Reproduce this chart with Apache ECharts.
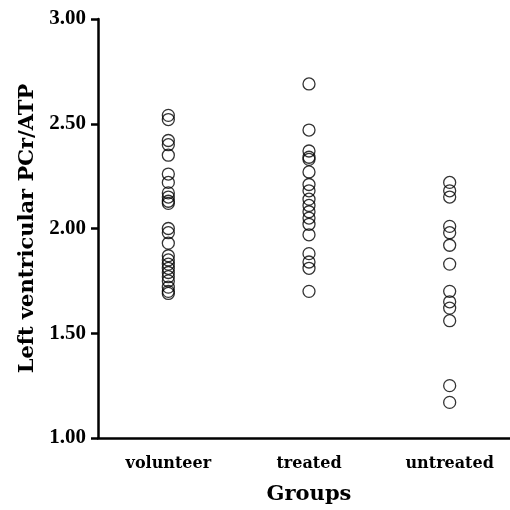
<!DOCTYPE html>
<html>
<head>
<meta charset="utf-8">
<script src="https://cdn.jsdelivr.net/npm/echarts@6/dist/echarts.min.js"></script>
<style>
  html, body { margin: 0; padding: 0; background: #fff; overflow: hidden; }
  /* the x axis runs past the right edge of the picture, so the chart is a bit wider than the window */
  #chart { width: 520px; height: 510px; }
</style>
</head>
<body>
<div id="chart"></div>
<script>
  // groups on the x axis
  var groups = ['volunteer', 'treated', 'untreated']

  // PCr/ATP values
  var volunteer = [2.54, 2.52, 2.42, 2.40, 2.35, 2.26, 2.22, 2.17, 2.15, 2.13, 2.12,
    2.00, 1.98, 1.93, 1.87, 1.85, 1.83, 1.81, 1.79, 1.77, 1.75, 1.72, 1.70, 1.69]
  var treated = [2.69, 2.47, 2.37, 2.34, 2.33, 2.27, 2.21, 2.18, 2.14, 2.11, 2.08,
    2.05, 2.02, 1.97, 1.88, 1.84, 1.81, 1.70]
  var untreated = [2.22, 2.18, 2.15, 2.01, 1.98, 1.92, 1.83, 1.70, 1.65, 1.62, 1.56,
    1.25, 1.17]

  var yTicks = [1.0, 1.5, 2.0, 2.5, 3.0]

  // wide bold serif for words, times-like for the numbers
  var font = '"DejaVu Serif", "Liberation Serif", serif'
  var numFont = '"Liberation Serif", "Times New Roman", serif'

  function toPoints(name, values) {
    return values.map(function (v) { return [name, v] })
  }

  var chart = echarts.init(document.getElementById('chart'))
  chart.setOption({
    animation: false,
    grid: { left: 98, top: 19, right: 0, bottom: 70 },
    xAxis: {
      type: 'category',
      data: groups,
      name: 'Groups',
      nameLocation: 'middle',
      nameGap: 46,
      nameTextStyle: { fontFamily: font, fontWeight: 'bold', fontSize: 21, color: '#000' },
      axisLine: { lineStyle: { color: '#000', width: 2.5 } },
      axisTick: { alignWithLabel: true, length: 6, lineStyle: { color: '#000', width: 2.5 } },
      axisLabel: { fontFamily: font, fontWeight: 'bold', fontSize: 16, color: '#000', margin: 18 },
      splitLine: { show: false }
    },
    yAxis: {
      type: 'value',
      min: yTicks[0],
      max: yTicks[yTicks.length - 1],
      interval: 0.5,
      name: 'Left ventricular PCr/ATP',
      nameLocation: 'middle',
      nameGap: 60,
      nameTextStyle: { fontFamily: font, fontWeight: 'bold', fontSize: 21, color: '#000' },
      axisLine: { show: true, lineStyle: { color: '#000', width: 2.5 } },
      axisTick: { show: true, length: 7, lineStyle: { color: '#000', width: 2.5 } },
      axisLabel: {
        fontFamily: numFont, fontWeight: 'bold', fontSize: 21, color: '#000', margin: 12,
        formatter: function (v) { return v.toFixed(2) }
      },
      splitLine: { show: false }
    },
    series: [
      ['volunteer', volunteer],
      ['treated', treated],
      ['untreated', untreated]
    ].map(function (g) {
      return {
        name: g[0],
        type: 'scatter',
        data: toPoints(g[0], g[1]),
        symbol: 'circle',
        symbolSize: 12,
        itemStyle: { color: 'rgba(255,255,255,0)', borderColor: '#000', borderWidth: 1.3 }
      }
    })
  })
</script>
</body>
</html>
